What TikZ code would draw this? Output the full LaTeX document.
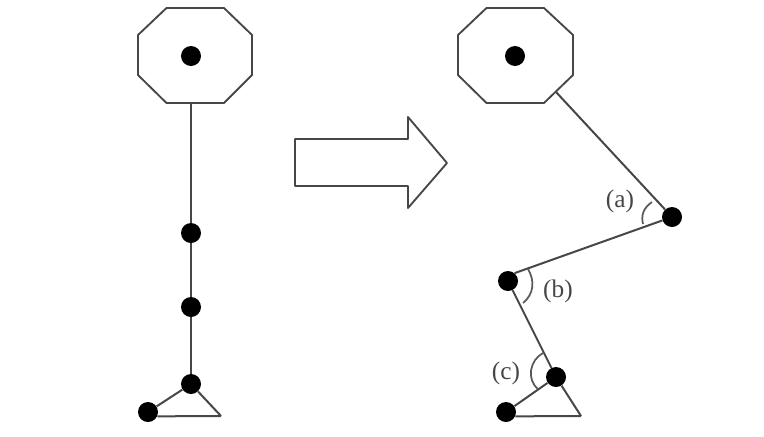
\documentclass[tikz,border=0pt]{standalone}
\usepackage{fontspec}
\setmainfont{Liberation Serif}
\begin{document}
\begin{tikzpicture}[x=0.75pt,y=-0.75pt,
  outline/.style={draw=black!72,line width=1.4pt,line join=round},
  link/.style={draw=black!72,line width=1.5pt},
  anglearc/.style={draw=black!65,line width=1.3pt},
  joint/.style={circle,fill=black,inner sep=0pt,minimum size=15pt},
  lab/.style={text=black!72,font=\fontsize{19}{22}\selectfont,inner sep=0pt}]
\useasboundingbox (0,0) rectangle (764,436);
% left octagon
\draw[outline] (166.5,8) -- (224,8) -- (252,35) -- (252,75) -- (224,103) -- (166.5,103) -- (138,75) -- (138,35) -- cycle;
\coordinate (Lbase) at (191,103);
\node[joint] (Lhub) at (191,56) {};
\node[joint] (L1) at (191,233) {};
\node[joint] (L2) at (191,307) {};
\node[joint] (L3) at (191,384) {};
\node[joint] (Lheel) at (148,412) {};
\coordinate (Ltip) at (221,416);
\draw[link] (Lbase) -- (L1);
\draw[link] (L1) -- (L2);
\draw[link] (L2) -- (L3);
\draw[link] (L3) -- (Lheel);
\draw[link] (L3) -- (Ltip);
\draw[link] (Ltip) -- (Lheel.-25);
% arrow
\draw[outline] (295,139) -- (408,139) -- (408,117) -- (447,163) -- (408,208) -- (408,186) -- (295,186) -- cycle;
% right octagon
\draw[outline] (486.5,8) -- (544,8) -- (573,35) -- (573,75) -- (544,103) -- (486.5,103) -- (458,75) -- (458,35) -- cycle;
\coordinate (Rbase) at (556,92);
\node[joint] (Rhub) at (515,56) {};
\node[joint] (R1) at (672,217) {};
\node[joint] (R2) at (508,281) {};
\node[joint] (R3) at (556,377) {};
\node[joint] (Rheel) at (506,412) {};
\coordinate (Rtip) at (581,416);
\draw[link] (Rbase) -- (R1);
\draw[link] (R1) -- (R2.50);
\draw[link] (R2) -- (R3);
\draw[link] (R3) -- (Rheel);
\draw[link] (R3) -- (Rtip);
\draw[link] (Rtip) -- (Rheel.-25);
% angle arcs
\draw[anglearc] (652,202) .. controls (643,208) and (641,216) .. (643,224);
\draw[anglearc] (528,269) .. controls (535,281) and (534,294) .. (523,303);
\draw[anglearc] (543,353) .. controls (530,360) and (526,379) .. (538,389);
% labels
\node[lab] (la) at (620,201) {(a)};
\node[lab] (lb) at (558,291) {(b)};
\node[lab] (lc) at (506,373) {(c)};
\end{tikzpicture}
\end{document}
